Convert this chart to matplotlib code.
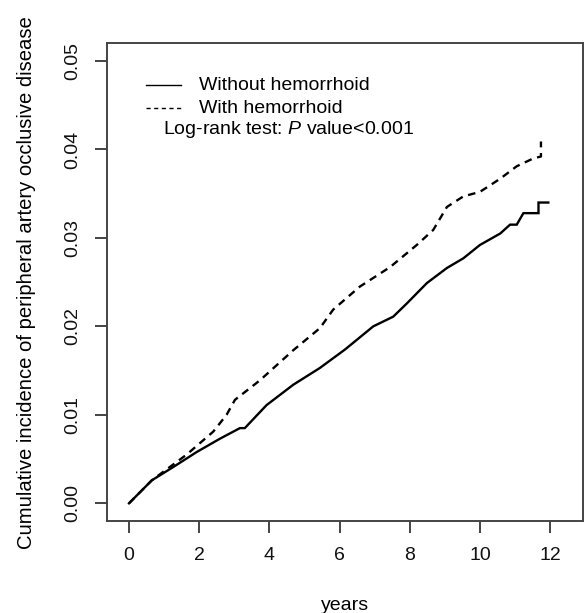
import matplotlib
matplotlib.use("Agg")
import matplotlib.pyplot as plt
from matplotlib.lines import Line2D

plt.rcParams['font.family'] = ['Liberation Sans', 'DejaVu Sans']
plt.rcParams['mathtext.fontset'] = 'custom'
plt.rcParams['mathtext.rm'] = 'Liberation Sans'
plt.rcParams['mathtext.it'] = 'Liberation Sans:italic'

# Data
t_without = [0, 0.3, 0.65, 1.26, 1.93, 2.59, 3.16, 3.3, 3.92, 4.68, 5.44, 6.16, 6.96,
             7.53, 7.92, 8.49, 9.06, 9.53, 10.0, 10.58, 10.86, 11.05, 11.24, 11.67,
             11.67, 11.95]
v_without = [0, 0.0012, 0.0026, 0.0041, 0.0058, 0.0073, 0.0085, 0.0085, 0.0111, 0.0134,
             0.0153, 0.0174, 0.0200, 0.0211, 0.0226, 0.0249, 0.0266, 0.0277, 0.0292,
             0.0305, 0.0315, 0.0315, 0.0328, 0.0328, 0.0340, 0.0340]

t_with = [0, 0.65, 1.64, 2.40, 2.78, 3.02, 3.73, 4.68, 5.44, 5.82, 6.58, 7.44, 8.20,
          8.67, 9.06, 9.53, 10.0, 10.58, 11.05, 11.53, 11.74, 11.74]
v_with = [0, 0.0026, 0.0055, 0.0081, 0.0100, 0.0117, 0.0139, 0.0173, 0.0198, 0.0219,
          0.0245, 0.0267, 0.0292, 0.0309, 0.0335, 0.0347, 0.0352, 0.0367, 0.0381,
          0.0390, 0.0392, 0.0409]

x_ticks = [0, 2, 4, 6, 8, 10, 12]
y_ticks = [0.00, 0.01, 0.02, 0.03, 0.04, 0.05]
y_tick_labels = ["0.00", "0.01", "0.02", "0.03", "0.04", "0.05"]
legend_labels = ["Without hemorrhoid", "With hemorrhoid"]

W, H = 584, 613
fig = plt.figure(figsize=(W / 100, H / 100), dpi=100)
ax = fig.add_axes([106.7 / W, 1 - 521 / H, (582.7 - 106.7) / W, (521 - 43.3) / H])

ax.plot(t_without, v_without, color='black', lw=1.7, solid_joinstyle='miter')
ax.plot(t_with, v_with, color='black', lw=1.7, linestyle=(0, (3.2, 2.4)))

ax.set_xlim(-0.636, 12.93)
ax.set_ylim(-0.002, 0.052)
ax.set_xticks(x_ticks)
ax.set_xticklabels([str(v) for v in x_ticks])
ax.set_yticks(y_ticks)
ax.set_yticklabels(y_tick_labels, rotation=90, va='center')

spine_color = '#444444'
for s in ax.spines.values():
    s.set_color(spine_color)
    s.set_linewidth(1.4)
ax.tick_params(axis='both', length=8.6, width=1.4, color=spine_color,
               labelsize=14, labelcolor='#111111', pad=10)

ax.set_xlabel("years", fontsize=14, labelpad=24)
ax.set_ylabel("Cumulative incidence of peripheral artery occlusive disease",
              fontsize=14.6, labelpad=20)


def fx(px):
    return px / W


def fy(py):
    return 1 - py / H


fig.add_artist(Line2D([fx(146), fx(181)], [fy(85), fy(85)], color='black', lw=1.0))
fig.add_artist(Line2D([fx(146), fx(181)], [fy(108.3), fy(108.3)], color='black', lw=1.0,
                      linestyle=(0, (3, 2.5))))
fig.text(fx(199), fy(85), legend_labels[0], fontsize=14, va='center', ha='left')
fig.text(fx(199), fy(108.3), legend_labels[1], fontsize=14, va='center', ha='left')
fig.text(fx(163), fy(130), "Log-rank test: $\\mathit{P}$ value<0.001", fontsize=14,
         va='center', ha='left')

fig.savefig("out.png", dpi=100)
